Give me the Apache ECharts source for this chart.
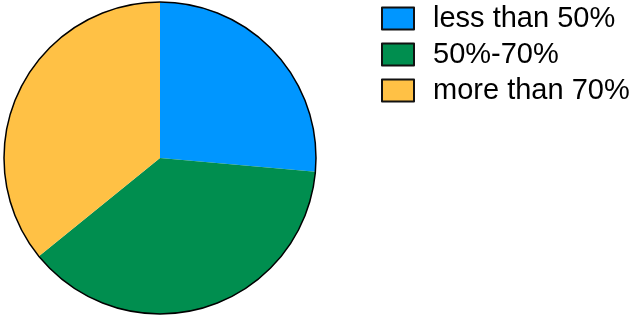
<!DOCTYPE html>
<html>
<head>
<meta charset="utf-8">
<script src="https://cdn.jsdelivr.net/npm/echarts@6/dist/echarts.min.js"></script>
<style>
  html, body { margin: 0; padding: 0; background: #fff; }
  #main { width: 633px; height: 316px; }
</style>
</head>
<body>
<div id="main"></div>
<script>
// categories and counts
var categories = ['less than 50%', '50%-70%', 'more than 70%'];
var counts = [14, 20, 19];
var colors = ['#0096ff', '#008e4f', '#ffc145'];

var pieData = [];
for (var i = 0; i < categories.length; i++) {
  pieData.push({ name: categories[i], value: counts[i], itemStyle: { color: colors[i] } });
}

var myChart = echarts.init(document.getElementById('main'));
myChart.setOption({
  animation: false,
  legend: {
    data: categories,
    orient: 'vertical',
    left: 381,
    top: 4,
    padding: 0,
    itemWidth: 32,
    itemHeight: 22,
    itemGap: 7,
    icon: 'rect',
    itemStyle: { borderColor: '#111', borderWidth: 2 },
    textStyle: {
      fontFamily: 'Liberation Sans',
      fontSize: 29,
      color: '#000',
      padding: [0, 0, 0, 14]
    }
  },
  series: [
    {
      type: 'pie',
      center: [160, 158],
      radius: 156,
      startAngle: 90,
      clockwise: true,
      label: { show: false },
      labelLine: { show: false },
      emphasis: { disabled: true },
      itemStyle: { borderWidth: 0 },
      data: pieData
    },
    {
      // outer black rim
      type: 'pie',
      center: [160, 158],
      radius: 156,
      silent: true,
      label: { show: false },
      labelLine: { show: false },
      itemStyle: { color: 'rgba(0,0,0,0)', borderColor: '#000', borderWidth: 1.5 },
      data: [{ name: 'rim', value: 1 }]
    }
  ]
});
</script>
</body>
</html>
